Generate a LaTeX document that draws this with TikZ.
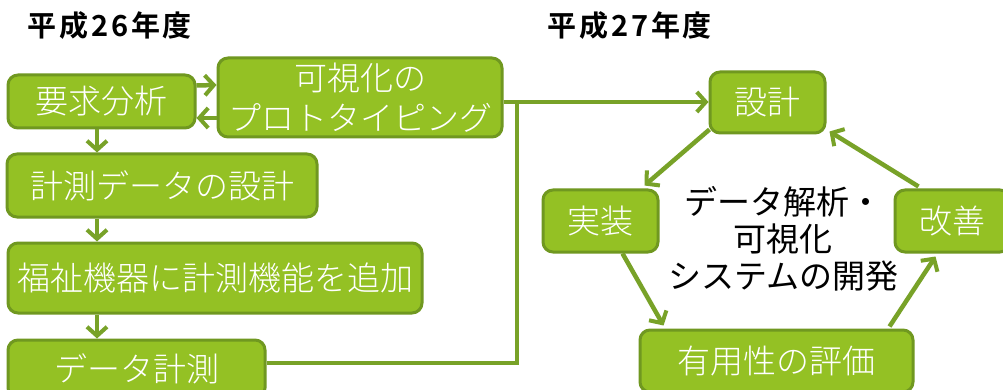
\documentclass[tikz,border=0pt]{standalone}
\usepackage{fontspec}
\usetikzlibrary{arrows.meta,calc}
\newfontfamily\jp{Noto Sans CJK JP Light}
\newfontfamily\jpr{Noto Sans CJK JP}
\newfontfamily\jpb{Noto Sans CJK JP Bold}[LetterSpace=10]
\definecolor{boxfill}{RGB}{148,193,36}
\definecolor{boxline}{RGB}{112,152,32}
\definecolor{arrowc}{RGB}{120,162,40}
\tikzset{
  gbox/.style={draw=boxline, line width=3pt, fill=boxfill, rounded corners=10pt,
    text=white, font=\jp\fontsize{33}{40}\selectfont, align=center, inner sep=0pt},
  conn/.style={draw=arrowc, line width=4.5pt},
  arr/.style={conn, -{Straight Barb[length=9pt,width=20pt,line width=4pt]}},
  title/.style={font=\jpb\fontsize{29}{30}\selectfont, anchor=west, inner sep=0pt},
  center/.style={font=\jpr\fontsize{33}{37}\selectfont, align=center, inner sep=0pt}
}
\begin{document}
\begin{tikzpicture}[x=1pt,y=-1pt]
\useasboundingbox (0,0) rectangle (1003,390);
\fill[white] (0,0) rectangle (1003,390);
% titles
\node[title] (t1) at (27,26) {平成26年度};
\node[title] (t2) at (547,26) {平成27年度};
% left boxes
\node[gbox, minimum width=187pt, minimum height=53pt] (A) at (101.5,101.5) {要求分析};
\node[gbox, minimum width=284pt, minimum height=79pt] (P) at (360,97.5) {可視化の\\プロトタイピング};
\node[gbox, minimum width=310pt, minimum height=63pt] (B) at (162,185.5) {計測データの設計};
\node[gbox, minimum width=414pt, minimum height=70pt] (C) at (215,278) {福祉機器に計測機能を追加};
\node[gbox, minimum width=257pt, minimum height=58pt] (D) at (136.5,369) {データ計測};
% right boxes
\node[gbox, minimum width=115pt, minimum height=61pt] (S) at (767.5,102.5) {設計};
\node[gbox, minimum width=115pt, minimum height=62pt] (I) at (600.5,221) {実装};
\node[gbox, minimum width=115pt, minimum height=62pt] (K) at (952.5,221) {改善};
\node[gbox, minimum width=273pt, minimum height=62pt] (E) at (776.5,361) {有用性の評価};
\node[center] (M) at (783,239) {データ解析・\\可視化\\システムの開発};
% left arrows
\draw[arr] ($(A.east)+(0,-16)$) -- ($(P.west)+(0,-12.5)$);
\draw[arr] ($(P.west)+(0,20.5)$) -- ($(A.east)+(0,16.5)$);
\draw[arr] ($(A.south)+(-4.5,0)$) -- ($(B.north)+(-65,0)$);
\draw[arr] ($(B.south)+(-65,0)$) -- ($(C.north)+(-118,0)$);
\draw[arr] ($(C.south)+(-118,0)$) -- ($(D.north)+(-39.5,0)$);
% link to right
\coordinate (J) at (517,363);
\draw[arr] ($(P.east)+(0,4.5)$) -- ($(S.west)+(0,-0.5)$);
\draw[conn] ($(D.east)+(0,-6)$) -| (J) -- (517,100);
% cycle
\draw[arr] ($(S.south west)+(1,-5)$) -- ($(I.north east)+(-15,-3)$);
\draw[arr] ($(I.south)+(22,0)$) -- ($(E.north west)+(25,-3)$);
\draw[arr] ($(E.north east)+(-25,-2)$) -- ($(K.south west)+(42,3)$);
\draw[arr] ($(K.north west)+(25,-2)$) -- ($(S.south east)+(3,-3)$);
\end{tikzpicture}
\end{document}
